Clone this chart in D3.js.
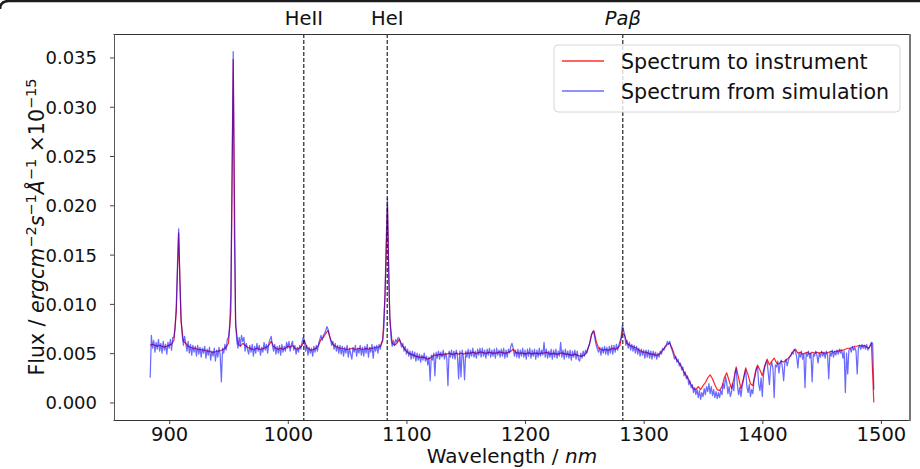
<!DOCTYPE html>
<html>
<head>
<meta charset="utf-8">
<script src="https://cdn.jsdelivr.net/npm/d3@7"></script>
<style>
  body { margin: 0; background: #fff; }
  svg { display: block; font-family: 'DejaVu Sans', sans-serif; }
</style>
</head>
<body>
<svg width="920" height="469"></svg>
<script>
// Wavelength grids (nm): the instrument spectrum every 2 nm, the simulation every 1 nm:
var wavelengthsInstrument = d3.range(884, 1495, 2);
var wavelengthsSimulation = d3.range(884, 1495, 1);

// Flux of the spectrum sent to the instrument (x 1e-15 erg cm-2 s-1 A-1):
var fluxInstrument = [
  0.0058, 0.0059, 0.0058, 0.0057, 0.0058, 0.0057, 0.0056, 0.0057, 0.0058, 0.0059,
  0.0063, 0.0092, 0.0172, 0.0082, 0.0062, 0.0060, 0.0057, 0.0056, 0.0055, 0.0055,
  0.0054, 0.0054, 0.0053, 0.0053, 0.0052, 0.0052, 0.0051, 0.0051, 0.0052, 0.0052,
  0.0053, 0.0054, 0.0056, 0.0060, 0.0092, 0.0348, 0.0078, 0.0060, 0.0057, 0.0060,
  0.0058, 0.0056, 0.0055, 0.0054, 0.0054, 0.0055, 0.0054, 0.0054, 0.0055, 0.0056,
  0.0058, 0.0062, 0.0057, 0.0055, 0.0054, 0.0055, 0.0054, 0.0055, 0.0057, 0.0056,
  0.0058, 0.0055, 0.0054, 0.0055, 0.0058, 0.0063, 0.0056, 0.0054, 0.0053, 0.0054,
  0.0055, 0.0058, 0.0064, 0.0066, 0.0070, 0.0073, 0.0064, 0.0059, 0.0057, 0.0056,
  0.0055, 0.0055, 0.0054, 0.0054, 0.0054, 0.0055, 0.0054, 0.0054, 0.0055, 0.0054,
  0.0054, 0.0055, 0.0054, 0.0055, 0.0055, 0.0056, 0.0056, 0.0057, 0.0062, 0.0110,
  0.0200, 0.0085, 0.0060, 0.0058, 0.0060, 0.0064, 0.0059, 0.0055, 0.0052, 0.0050,
  0.0049, 0.0048, 0.0047, 0.0046, 0.0046, 0.0046, 0.0045, 0.0044, 0.0045, 0.0047,
  0.0048, 0.0048, 0.0049, 0.0048, 0.0049, 0.0049, 0.0050, 0.0049, 0.0049, 0.0050,
  0.0049, 0.0050, 0.0049, 0.0050, 0.0050, 0.0050, 0.0051, 0.0050, 0.0050, 0.0051,
  0.0051, 0.0050, 0.0050, 0.0051, 0.0050, 0.0050, 0.0050, 0.0051, 0.0051, 0.0050,
  0.0050, 0.0051, 0.0052, 0.0054, 0.0051, 0.0050, 0.0050, 0.0050, 0.0049, 0.0050,
  0.0050, 0.0049, 0.0050, 0.0050, 0.0049, 0.0050, 0.0050, 0.0051, 0.0050, 0.0049,
  0.0050, 0.0049, 0.0049, 0.0050, 0.0050, 0.0049, 0.0049, 0.0048, 0.0048, 0.0049,
  0.0048, 0.0047, 0.0047, 0.0048, 0.0051, 0.0058, 0.0069, 0.0073, 0.0062, 0.0055,
  0.0054, 0.0053, 0.0054, 0.0053, 0.0054, 0.0055, 0.0054, 0.0055, 0.0058, 0.0071,
  0.0068, 0.0060, 0.0058, 0.0057, 0.0056, 0.0055, 0.0053, 0.0052, 0.0051, 0.0051,
  0.0050, 0.0049, 0.0049, 0.0048, 0.0048, 0.0050, 0.0053, 0.0056, 0.0059, 0.0060,
  0.0055, 0.0048, 0.0043, 0.0040, 0.0036, 0.0031, 0.0027, 0.0023, 0.0018, 0.0014,
  0.0013, 0.0016, 0.0013, 0.0017, 0.0020, 0.0025, 0.0028, 0.0024, 0.0018, 0.0013,
  0.0012, 0.0016, 0.0025, 0.0030, 0.0022, 0.0014, 0.0024, 0.0036, 0.0025, 0.0014,
  0.0024, 0.0035, 0.0028, 0.0019, 0.0017, 0.0030, 0.0038, 0.0033, 0.0027, 0.0037,
  0.0044, 0.0038, 0.0042, 0.0045, 0.0040, 0.0039, 0.0042, 0.0041, 0.0043, 0.0045,
  0.0048, 0.0052, 0.0054, 0.0050, 0.0051, 0.0049, 0.0050, 0.0051, 0.0049, 0.0051,
  0.0050, 0.0051, 0.0050, 0.0051, 0.0050, 0.0050, 0.0051, 0.0052, 0.0051, 0.0052,
  0.0052, 0.0053, 0.0053, 0.0054, 0.0055, 0.0055, 0.0056, 0.0057, 0.0057, 0.0058,
  0.0057, 0.0058, 0.0056, 0.0055, 0.0060, 0.0000
];

// Flux of the simulated spectrum (same units, noisier), 20 nm per row:
var fluxSimulation = [
  0.0025, 0.0068, 0.0055, 0.0063, 0.0051, 0.0061, 0.0054, 0.0064, 0.0052, 0.0060, 0.0050, 0.0062, 0.0053, 0.0059, 0.0049, 0.0061, 0.0055, 0.0064, 0.0053, 0.0066,
  0.0066, 0.0075, 0.0098, 0.0140, 0.0176, 0.0125, 0.0088, 0.0068, 0.0058, 0.0067, 0.0060, 0.0052, 0.0062, 0.0050, 0.0059, 0.0048, 0.0058, 0.0051, 0.0057, 0.0047,
  0.0058, 0.0049, 0.0056, 0.0046, 0.0055, 0.0050, 0.0057, 0.0045, 0.0054, 0.0048, 0.0056, 0.0043, 0.0052, 0.0047, 0.0055, 0.0042, 0.0053, 0.0046, 0.0056, 0.0048,
  0.0021, 0.0055, 0.0050, 0.0059, 0.0053, 0.0064, 0.0066, 0.0078, 0.0110, 0.0230, 0.0356, 0.0170, 0.0085, 0.0062, 0.0055, 0.0066, 0.0058, 0.0068, 0.0062, 0.0066,
  0.0052, 0.0060, 0.0054, 0.0049, 0.0058, 0.0051, 0.0059, 0.0047, 0.0057, 0.0050, 0.0060, 0.0052, 0.0058, 0.0048, 0.0056, 0.0051, 0.0061, 0.0053, 0.0059, 0.0050,
  0.0060, 0.0064, 0.0067, 0.0058, 0.0052, 0.0059, 0.0049, 0.0057, 0.0050, 0.0058, 0.0048, 0.0059, 0.0051, 0.0057, 0.0052, 0.0061, 0.0055, 0.0062, 0.0052, 0.0059,
  0.0062, 0.0053, 0.0058, 0.0049, 0.0056, 0.0051, 0.0058, 0.0054, 0.0061, 0.0066, 0.0063, 0.0052, 0.0058, 0.0048, 0.0056, 0.0050, 0.0055, 0.0047, 0.0057, 0.0051,
  0.0058, 0.0052, 0.0060, 0.0064, 0.0068, 0.0063, 0.0068, 0.0070, 0.0073, 0.0077, 0.0074, 0.0068, 0.0064, 0.0058, 0.0062, 0.0054, 0.0060, 0.0052, 0.0058, 0.0050,
  0.0058, 0.0049, 0.0057, 0.0047, 0.0056, 0.0050, 0.0058, 0.0046, 0.0055, 0.0049, 0.0044, 0.0056, 0.0051, 0.0058, 0.0047, 0.0055, 0.0050, 0.0058, 0.0048, 0.0056,
  0.0047, 0.0057, 0.0050, 0.0059, 0.0046, 0.0056, 0.0051, 0.0059, 0.0045, 0.0057, 0.0052, 0.0058, 0.0050, 0.0059, 0.0054, 0.0061, 0.0064, 0.0075, 0.0112, 0.0165,
  0.0207, 0.0130, 0.0088, 0.0066, 0.0057, 0.0063, 0.0058, 0.0064, 0.0061, 0.0066, 0.0065, 0.0060, 0.0056, 0.0060, 0.0052, 0.0057, 0.0049, 0.0054, 0.0047, 0.0052,
  0.0044, 0.0052, 0.0045, 0.0051, 0.0042, 0.0050, 0.0043, 0.0049, 0.0041, 0.0048, 0.0043, 0.0050, 0.0042, 0.0047, 0.0038, 0.0046, 0.0022, 0.0048, 0.0043, 0.0050,
  0.0027, 0.0051, 0.0045, 0.0052, 0.0044, 0.0051, 0.0046, 0.0053, 0.0044, 0.0050, 0.0045, 0.0017, 0.0052, 0.0046, 0.0053, 0.0045, 0.0052, 0.0044, 0.0053, 0.0047,
  0.0024, 0.0052, 0.0026, 0.0053, 0.0046, 0.0023, 0.0052, 0.0046, 0.0054, 0.0045, 0.0053, 0.0047, 0.0055, 0.0046, 0.0052, 0.0045, 0.0054, 0.0048, 0.0055, 0.0046,
  0.0055, 0.0047, 0.0053, 0.0045, 0.0054, 0.0048, 0.0055, 0.0046, 0.0053, 0.0047, 0.0054, 0.0045, 0.0055, 0.0048, 0.0053, 0.0046, 0.0054, 0.0047, 0.0055, 0.0045,
  0.0053, 0.0046, 0.0054, 0.0050, 0.0057, 0.0060, 0.0055, 0.0047, 0.0053, 0.0046, 0.0054, 0.0045, 0.0053, 0.0047, 0.0055, 0.0046, 0.0053, 0.0044, 0.0054, 0.0047,
  0.0055, 0.0045, 0.0053, 0.0047, 0.0054, 0.0044, 0.0053, 0.0046, 0.0055, 0.0047, 0.0053, 0.0048, 0.0061, 0.0046, 0.0054, 0.0045, 0.0052, 0.0046, 0.0054, 0.0044,
  0.0053, 0.0046, 0.0054, 0.0045, 0.0052, 0.0047, 0.0061, 0.0046, 0.0053, 0.0044, 0.0054, 0.0046, 0.0052, 0.0045, 0.0053, 0.0043, 0.0052, 0.0046, 0.0053, 0.0044,
  0.0052, 0.0044, 0.0042, 0.0050, 0.0045, 0.0052, 0.0047, 0.0053, 0.0050, 0.0055, 0.0058, 0.0062, 0.0068, 0.0072, 0.0071, 0.0064, 0.0058, 0.0054, 0.0051, 0.0056,
  0.0048, 0.0056, 0.0050, 0.0057, 0.0049, 0.0056, 0.0048, 0.0057, 0.0050, 0.0058, 0.0049, 0.0058, 0.0051, 0.0059, 0.0053, 0.0058, 0.0062, 0.0066, 0.0078, 0.0074,
  0.0068, 0.0058, 0.0063, 0.0055, 0.0061, 0.0053, 0.0059, 0.0052, 0.0058, 0.0050, 0.0057, 0.0049, 0.0055, 0.0047, 0.0054, 0.0048, 0.0053, 0.0045, 0.0053, 0.0046,
  0.0053, 0.0045, 0.0052, 0.0044, 0.0052, 0.0046, 0.0051, 0.0044, 0.0050, 0.0046, 0.0052, 0.0049, 0.0055, 0.0053, 0.0057, 0.0058, 0.0062, 0.0059, 0.0062, 0.0056,
  0.0053, 0.0049, 0.0044, 0.0047, 0.0041, 0.0044, 0.0037, 0.0040, 0.0033, 0.0036, 0.0027, 0.0031, 0.0024, 0.0027, 0.0018, 0.0022, 0.0015, 0.0018, 0.0010, 0.0015,
  0.0008, 0.0013, 0.0005, 0.0012, 0.0003, 0.0010, 0.0006, 0.0014, 0.0008, 0.0016, 0.0011, 0.0019, 0.0009, 0.0016, 0.0007, 0.0013, 0.0005, 0.0011, 0.0004, 0.0010,
  0.0005, 0.0012, 0.0008, 0.0019, 0.0014, 0.0026, 0.0020, 0.0009, 0.0016, 0.0006, 0.0010, 0.0019, 0.0012, 0.0030, 0.0034, 0.0018, 0.0008, 0.0015, 0.0006, 0.0016,
  0.0022, 0.0028, 0.0033, 0.0016, 0.0010, 0.0018, 0.0006, 0.0013, 0.0009, 0.0022, 0.0027, 0.0035, 0.0036, 0.0018, 0.0012, 0.0025, 0.0006, 0.0028, 0.0035, 0.0040,
  0.0042, 0.0030, 0.0018, 0.0036, 0.0041, 0.0034, 0.0005, 0.0038, 0.0036, 0.0042, 0.0030, 0.0039, 0.0043, 0.0035, 0.0022, 0.0040, 0.0044, 0.0037, 0.0043, 0.0046,
  0.0047, 0.0051, 0.0049, 0.0054, 0.0052, 0.0046, 0.0035, 0.0050, 0.0046, 0.0052, 0.0044, 0.0049, 0.0015, 0.0050, 0.0047, 0.0052, 0.0045, 0.0050, 0.0021, 0.0049,
  0.0047, 0.0052, 0.0048, 0.0040, 0.0050, 0.0046, 0.0052, 0.0047, 0.0051, 0.0045, 0.0052, 0.0048, 0.0024, 0.0051, 0.0047, 0.0053, 0.0046, 0.0052, 0.0048, 0.0053,
  0.0049, 0.0054, 0.0050, 0.0053, 0.0045, 0.0052, 0.0010, 0.0050, 0.0029, 0.0053, 0.0055, 0.0051, 0.0057, 0.0053, 0.0056, 0.0052, 0.0029, 0.0055, 0.0058, 0.0054,
  0.0059, 0.0055, 0.0058, 0.0054, 0.0059, 0.0053, 0.0056, 0.0058, 0.0061, 0.0060, 0.0013
];

// Marked emission lines:
var lineNames = ['HeII', 'HeI', 'Paβ'];
var lineWavelengths = [1013.5, 1083.8, 1282.4];

// Tick values and legend labels:
var xTicks = [900, 1000, 1100, 1200, 1300, 1400, 1500];
var yTicks = [0, 0.005, 0.010, 0.015, 0.020, 0.025, 0.030, 0.035];
var legendLabels = ['Spectrum to instrument', 'Spectrum from simulation'];

// Select the SVG:
var svg = d3.select('svg');

// Margins of the axes area:
var margin = { left: 114, right: 10, top: 34, bottom: 49 };
var width = 920 - margin.left - margin.right;
var height = 469 - margin.top - margin.bottom;

// Pair up the samples:
var instrument = wavelengthsInstrument.map(function (w, i) { return { w: w, f: fluxInstrument[i] }; });
var simulation = wavelengthsSimulation.map(function (w, i) { return { w: w, f: fluxSimulation[i] }; });

// Scales with a 5% margin around the data, like matplotlib does:
var xExt = d3.extent(wavelengthsInstrument.concat(wavelengthsSimulation));
var xPad = (xExt[1] - xExt[0]) * 0.05;
var yMin = d3.min(fluxInstrument.concat(fluxSimulation));
var yMax = d3.max(fluxInstrument.concat(fluxSimulation));
var yPad = (yMax - yMin) * 0.05;

var x = d3.scaleLinear().domain([xExt[0] - xPad, xExt[1] + xPad]).range([0, width]);
var y = d3.scaleLinear().domain([yMin - yPad, yMax + yPad]).range([height, 0]);

// Frame for the plot:
var g = svg.append('g')
  .attr('transform', 'translate(' + margin.left + ',' + margin.top + ')');

// Clip the spectra to the axes:
svg.append('defs').append('clipPath')
  .attr('id', 'clip')
  .append('rect')
  .attr('width', width)
  .attr('height', height);

// Lines for the two spectra:
var line = d3.line()
  .x(function (d) { return x(d.w); })
  .y(function (d) { return y(d.f); });

var plot = g.append('g').attr('clip-path', 'url(#clip)');

plot.append('path')
  .datum(instrument)
  .attr('fill', 'none')
  .attr('stroke', 'red')
  .attr('stroke-opacity', 0.85)
  .attr('stroke-width', 1.2)
  .attr('stroke-linejoin', 'round')
  .attr('d', line);

plot.append('path')
  .datum(simulation)
  .attr('fill', 'none')
  .attr('stroke', 'blue')
  .attr('stroke-opacity', 0.58)
  .attr('stroke-width', 1.25)
  .attr('stroke-linejoin', 'round')
  .attr('d', line);

// Dashed lines for the emission lines, with their names above the axes:
g.selectAll('.marker')
  .data(lineWavelengths)
  .enter().append('line')
  .attr('class', 'marker')
  .attr('x1', function (d) { return x(d); })
  .attr('x2', function (d) { return x(d); })
  .attr('y1', 0)
  .attr('y2', height)
  .attr('stroke', '#111')
  .attr('stroke-width', 1.1)
  .attr('stroke-dasharray', '4,2');

g.selectAll('.marker-label')
  .data(lineNames)
  .enter().append('text')
  .attr('class', 'marker-label')
  .attr('x', function (d, i) { return x(lineWavelengths[i]); })
  .attr('y', -9)
  .attr('text-anchor', 'middle')
  .attr('font-size', 19.5)
  .attr('font-style', function (d) { return d === 'Paβ' ? 'italic' : 'normal'; })
  .attr('fill', '#111')
  .text(function (d) { return d; });

// Axes:
var xAxis = d3.axisBottom(x).tickValues(xTicks).tickSize(4).tickSizeOuter(0).tickFormat(d3.format('d'));
var yAxis = d3.axisLeft(y).tickValues(yTicks).tickSize(4).tickSizeOuter(0).tickFormat(d3.format('.3f'));

var gx = g.append('g')
  .attr('transform', 'translate(0,' + height + ')')
  .call(xAxis);
gx.select('.domain').remove();
gx.selectAll('line').attr('stroke', '#444');
gx.selectAll('text')
  .attr('y', 21)
  .attr('dy', 0)
  .attr('font-size', 19.5)
  .attr('font-family', 'DejaVu Sans')
  .attr('fill', '#111');

var gy = g.append('g').call(yAxis);
gy.select('.domain').remove();
gy.selectAll('line').attr('stroke', '#444');
gy.selectAll('text')
  .attr('x', -17)
  .attr('dy', '0.36em')
  .attr('font-size', 18)
  .attr('font-family', 'DejaVu Sans')
  .attr('fill', '#111');

// Spines:
g.append('line').attr('x1', -0.5).attr('x2', width).attr('y1', 0.5).attr('y2', 0.5).attr('stroke', '#333');
g.append('line').attr('x1', -0.5).attr('x2', width).attr('y1', height + 0.5).attr('y2', height + 0.5).attr('stroke', '#333');
g.append('line').attr('x1', 0.5).attr('x2', 0.5).attr('y1', 0).attr('y2', height + 1).attr('stroke', '#555');
g.append('line').attr('x1', width).attr('x2', width).attr('y1', 0).attr('y2', height + 1).attr('stroke', '#777').attr('stroke-width', 2);

// X axis label:
var xLabel = svg.append('text')
  .attr('x', margin.left + width / 2)
  .attr('y', 463)
  .attr('text-anchor', 'middle')
  .attr('font-size', 20)
  .attr('fill', '#111');
xLabel.append('tspan').text('Wavelength / ');
xLabel.append('tspan').attr('font-style', 'italic').text('nm');

// Y axis label, built from pieces so the exponents can be raised:
var yLabel = svg.append('text')
  .attr('transform', 'translate(44,' + (margin.top + height / 2) + ') rotate(-90)')
  .attr('text-anchor', 'middle')
  .attr('font-size', 20.5)
  .attr('fill', '#111');

var yLabelParts = [
  { t: 'Flux / ' },
  { t: 'ergcm', italic: true },
  { t: '−2', sup: true },
  { t: 's', italic: true },
  { t: '−1', sup: true },
  { t: 'Å', italic: true },
  { t: '−1', sup: true },
  { t: ' ×10' },
  { t: '−15', sup: true }
];
var raised = false;
yLabelParts.forEach(function (p) {
  var ts = yLabel.append('tspan').text(p.t);
  if (p.italic) ts.attr('font-style', 'italic');
  if (p.sup) {
    ts.attr('font-size', 14.5).attr('dy', raised ? 0 : -8);
    raised = true;
  } else if (raised) {
    ts.attr('dy', 8);
    raised = false;
  }
});

// Legend:
var legend = g.append('g')
  .attr('transform', 'translate(' + (554 - margin.left) + ',' + (45 - margin.top) + ')');

legend.append('rect')
  .attr('width', 346)
  .attr('height', 67)
  .attr('rx', 4)
  .attr('fill', '#fff')
  .attr('fill-opacity', 0.8)
  .attr('stroke', '#d6d6d6');

var legendColors = ['#ff3030', '#6b6bff'];

legendLabels.forEach(function (label, i) {
  legend.append('line')
    .attr('x1', 8)
    .attr('x2', 50)
    .attr('y1', 16 + i * 30)
    .attr('y2', 16 + i * 30)
    .attr('stroke', legendColors[i])
    .attr('stroke-width', 1.5);
  legend.append('text')
    .attr('x', 67)
    .attr('y', 23.5 + i * 30)
    .attr('font-size', 20.6)
    .attr('fill', '#111')
    .text(label);
});

// Dark edge along the top of the picture:
svg.append('path')
  .attr('d', 'M0,9 Q0,1 9,1 L920,1')
  .attr('fill', 'none')
  .attr('stroke', '#1c1c1c')
  .attr('stroke-width', 2.5);
</script>
</body>
</html>
